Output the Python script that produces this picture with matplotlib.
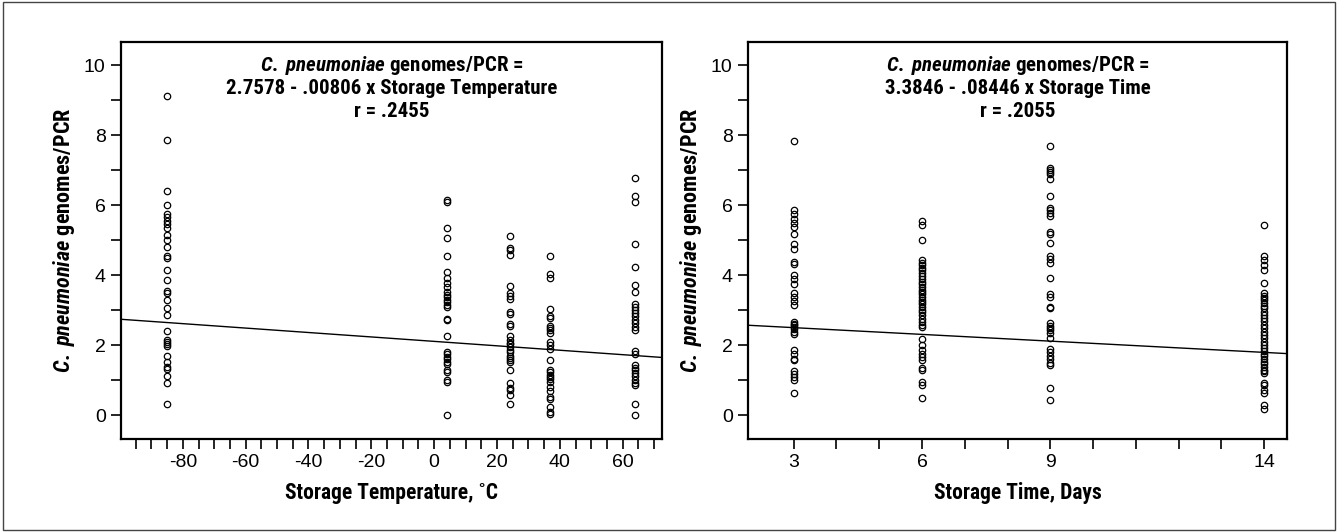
import numpy as np
import matplotlib
matplotlib.use("Agg")
import matplotlib.pyplot as plt
from matplotlib.patches import Rectangle

# fonts: condensed bold for labels, bold italic for the species name
plt.rcParams['font.family'] = ['Roboto Condensed', 'Liberation Sans', 'DejaVu Sans']
plt.rcParams['mathtext.fontset'] = 'custom'
plt.rcParams['mathtext.it'] = 'Roboto Condensed:italic:bold'
plt.rcParams['mathtext.rm'] = 'Roboto Condensed:bold'
plt.rcParams['axes.unicode_minus'] = False

# ---- left panel data: storage temperature (deg C) ----
temp_levels = [-85, 4, 24, 37, 64]
temp_m85 = [9.12, 7.85, 6.4, 6.0, 5.75, 5.65, 5.55, 5.45, 5.35, 5.15, 5.0, 4.8, 4.55, 4.5,
            4.15, 3.85, 3.55, 3.5, 3.3, 3.05, 2.85, 2.4, 2.16, 2.1, 2.04, 1.97, 1.7, 1.52,
            1.37, 1.32, 1.13, 0.93, 0.31]
temp_4 = [6.15, 6.08, 5.35, 5.06, 4.56, 4.08, 3.92, 3.78, 3.65, 3.51, 3.44, 3.38, 3.30, 3.23,
          3.16, 3.09, 2.76, 2.72, 2.26, 1.81, 1.74, 1.67, 1.60, 1.52, 1.45, 1.30, 1.22, 1.0,
          0.95, 0.02]
temp_24 = [5.12, 4.79, 4.72, 4.57, 3.69, 3.50, 3.41, 3.31, 2.95, 2.88, 2.60, 2.55, 2.26, 2.14,
           2.07, 2.02, 1.94, 1.85, 1.80, 1.70, 1.63, 1.57, 1.52, 1.29, 0.93, 0.79, 0.72, 0.58,
           0.32]
temp_37 = [4.54, 4.02, 3.92, 3.04, 2.82, 2.77, 2.56, 2.48, 2.42, 2.35, 2.08, 2.01, 1.89, 1.58,
           1.30, 1.23, 1.15, 1.08, 1.02, 0.94, 0.80, 0.68, 0.51, 0.45, 0.23, 0.10, 0.03]
temp_64 = [6.78, 6.25, 6.08, 4.90, 4.23, 3.71, 3.52, 3.17, 3.09, 3.01, 2.92, 2.82, 2.73, 2.63,
           2.52, 2.42, 1.83, 1.76, 1.42, 1.35, 1.28, 1.20, 1.11, 1.01, 0.92, 0.86, 0.33, 0.02]
temp_values = [temp_m85, temp_4, temp_24, temp_37, temp_64]
# fitted line as drawn (value at left and right edge of the axis)
temp_line_x = [-99.7, 72.5]
temp_line_y = [2.74, 1.65]
temp_text = ["2.7578 - .00806 x Storage Temperature", "r = .2455"]

# ---- right panel data: storage time (days) ----
time_levels = [3, 6, 9, 14]
time_3 = [7.83, 5.85, 5.74, 5.61, 5.49, 5.38, 5.17, 4.88, 4.76, 4.38, 4.31, 4.01, 3.90, 3.76,
          3.49, 3.38, 3.26, 3.14, 2.66, 2.61, 2.57, 2.52, 2.45, 2.38, 2.31, 1.85, 1.74, 1.61,
          1.57, 1.26, 1.19, 1.09, 1.0, 0.64]
time_6 = [5.55, 5.42, 5.0, 4.42, 4.35, 4.28, 4.21, 4.14, 4.07, 3.99, 3.90, 3.80, 3.74, 3.66,
          3.59, 3.52, 3.45, 3.38, 3.30, 3.23, 3.17, 3.09, 3.01, 2.95, 2.85, 2.76, 2.66, 2.59,
          2.52, 2.19, 2.0, 1.85, 1.74, 1.66, 1.59, 1.35, 1.30, 0.96, 0.87, 0.50]
time_9 = [7.70, 7.07, 7.01, 6.95, 6.88, 6.74, 6.26, 5.93, 5.86, 5.79, 5.69, 5.23, 5.17, 4.93,
          4.55, 4.47, 4.36, 3.91, 3.45, 3.38, 3.10, 3.05, 2.62, 2.55, 2.48, 2.43, 2.36, 2.21,
          1.88, 1.80, 1.68, 1.60, 1.50, 1.42, 0.77, 0.43]
time_14 = [5.42, 4.55, 4.42, 4.29, 4.15, 3.77, 3.49, 3.41, 3.34, 3.28, 3.20, 3.12, 3.06, 2.96,
           2.87, 2.77, 2.68, 2.58, 2.49, 2.39, 2.29, 2.20, 2.10, 2.01, 1.91, 1.82, 1.75, 1.68,
           1.60, 1.53, 1.46, 1.38, 1.30, 1.25, 1.20, 0.91, 0.86, 0.72, 0.62, 0.28, 0.18]
time_values = [time_3, time_6, time_9, time_14]
time_line_x = [1.93, 14.53]
time_line_y = [2.57, 1.76]
time_text = ["3.3846 - .08446 x Storage Time", "r = .2055"]

ylabel = r"$\mathit{C.}$ $\mathit{pneumoniae}$ genomes/PCR"
header = r"$\mathit{C.}$ $\mathit{pneumoniae}$ genomes/PCR ="

tick_font = ['Liberation Sans', 'DejaVu Sans']

fig = plt.figure(figsize=(13.38, 5.32), dpi=100)
ax1 = fig.add_axes([0.0904, 0.1748, 0.4043, 0.7462])
ax2 = fig.add_axes([0.5590, 0.1748, 0.4028, 0.7462])

# thin frame round the whole figure
fig.patches.append(Rectangle((0.002, 0.003), 0.996, 0.994, transform=fig.transFigure,
                             fill=False, lw=1.0, ec='#444444'))


def draw_panel(ax, levels, values, line_x, line_y, text, xlim):
    for lev, vals in zip(levels, values):
        ax.plot([lev] * len(vals), vals, 'o', mfc='none', mec='black', ms=4.6, mew=0.9,
                linestyle='none')
    ax.plot(line_x, line_y, color='black', lw=1.0)
    ax.set_xlim(xlim)
    ax.set_ylim(-0.68, 10.66)
    ax.set_yticks([0, 2, 4, 6, 8, 10])
    ax.set_yticks([1, 3, 5, 7, 9], minor=True)
    for sp in ax.spines.values():
        sp.set_linewidth(1.6)
    ax.tick_params(which='both', direction='out', length=7, width=1.2, labelsize=14,
                   pad=4)
    ax.set_ylabel(ylabel, fontsize=16, fontweight='bold', labelpad=5)
    ax.text(0.5, 0.94, header, transform=ax.transAxes, ha='center', va='center',
            fontsize=15, fontweight='bold')
    ax.text(0.5, 0.882, text[0], transform=ax.transAxes, ha='center', va='center',
            fontsize=15, fontweight='bold')
    ax.text(0.5, 0.824, text[1], transform=ax.transAxes, ha='center', va='center',
            fontsize=15, fontweight='bold')


draw_panel(ax1, temp_levels, temp_values, temp_line_x, temp_line_y, temp_text, (-99.7, 72.5))
ax1.set_xticks(np.arange(-80, 61, 20))
ax1.set_xticks([t for t in range(-95, 71, 5) if t % 20 != 0], minor=True)
ax1.set_xlabel("Storage Temperature, ˚C", fontsize=15.5, fontweight='bold', labelpad=8)

draw_panel(ax2, time_levels, time_values, time_line_x, time_line_y, time_text, (1.93, 14.53))
ax2.set_xticks(time_levels)
ax2.set_xticks([t for t in range(3, 15) if t not in time_levels], minor=True)
ax2.set_xlabel("Storage Time, Days", fontsize=15.5, fontweight='bold', labelpad=8)

for ax in (ax1, ax2):
    for lab in ax.get_xticklabels() + ax.get_yticklabels():
        lab.set_fontfamily(tick_font)

fig.savefig("out.png", dpi=100)
